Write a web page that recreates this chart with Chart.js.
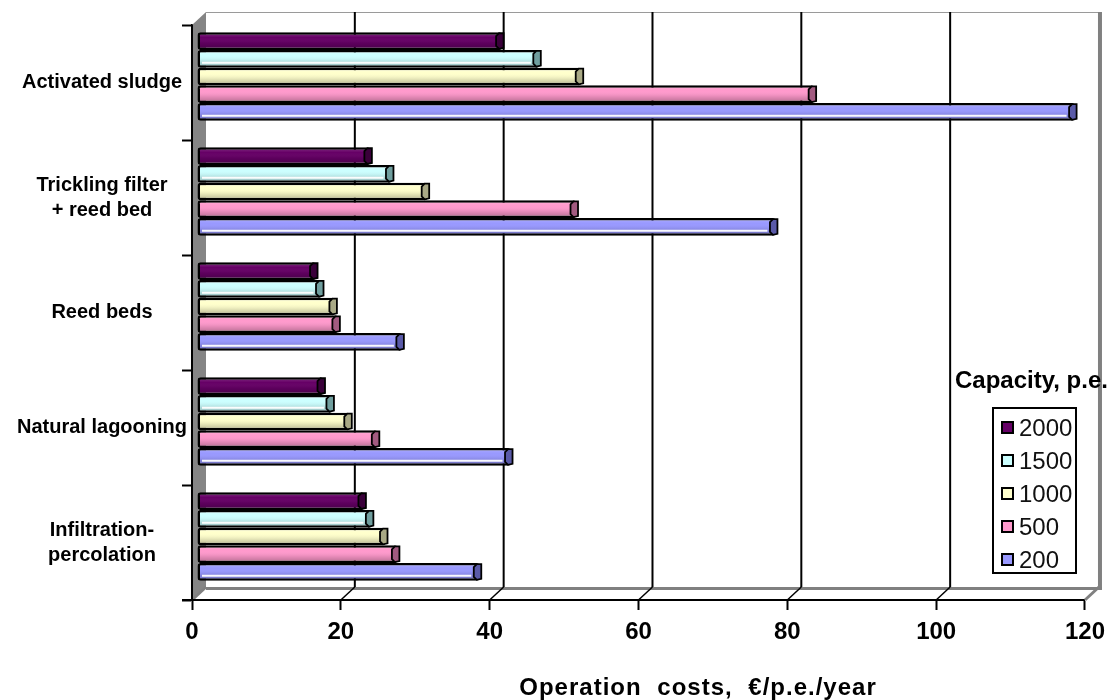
<!DOCTYPE html>
<html>
<head>
<meta charset="utf-8">
<script src="https://cdn.jsdelivr.net/npm/chart.js@4/dist/chart.umd.min.js"></script>
<style>
  html, body { margin: 0; padding: 0; background: #fff; }
  #wrap { width: 1113px; height: 700px; position: relative; }
</style>
</head>
<body>
<div id="wrap"><canvas id="costChart"></canvas></div>
<script>
// Treatment processes (top to bottom)
const categories = [
  'Activated sludge',
  ['Trickling filter', '+ reed bed'],
  'Reed beds',
  'Natural lagooning',
  ['Infiltration-', 'percolation']
];

// Plant capacity classes, p.e.
const capacities = ['2000', '1500', '1000', '500', '200'];

// Operation costs, €/p.e./year, one value per process
const cost2000 = [41, 23.3, 16, 17, 22.5];
const cost1500 = [46, 26.2, 16.8, 18.2, 23.5];
const cost1000 = [51.7, 31, 18.6, 20.6, 25.4];
const cost500  = [83, 51, 19, 24.3, 27];
const cost200  = [118, 77.8, 27.6, 42.2, 38];

// Value axis ticks
const xTicks = [0, 20, 40, 60, 80, 100, 120];

const xTitle = 'Operation costs, €/p.e./year';
const legendTitle = 'Capacity, p.e.';

// Styling
const FONT = '"Liberation Sans", Arial, sans-serif';
const fillColors = ['#660066', '#ccffff', '#ffffcc', '#ff99cc', '#9999ff'];
const capColors  = ['#3a003a', '#6f9e9e', '#a9a985', '#a25a80', '#5a5aa8'];
const glossLine  = [false, true, false, false, true];

const seriesValues = [cost2000, cost1500, cost1000, cost500, cost200];

// Pseudo-3D frame: back wall offset and bar depth offset
const WALL = { dx: 14, dy: -13 };
const BAR  = { dx: 5, dy: -6 };

const depthFrame = {
  id: 'depthFrame',
  beforeDatasetsDraw(chart) {
    const { ctx, chartArea: a, scales: { x } } = chart;
    ctx.save();
    const bl = a.left + WALL.dx, bt = a.top + WALL.dy, bb = a.bottom + WALL.dy;
    const br = x.getPixelForValue(xTicks[xTicks.length - 1]) + WALL.dx;

    // left side wall
    ctx.fillStyle = '#858585';
    ctx.beginPath();
    ctx.moveTo(a.left, a.top);
    ctx.lineTo(bl, bt);
    ctx.lineTo(bl, bb);
    ctx.lineTo(a.left, a.bottom);
    ctx.closePath();
    ctx.fill();

    // back wall top and right edges
    ctx.strokeStyle = '#9a9a9a';
    ctx.lineWidth = 1;
    ctx.beginPath(); ctx.moveTo(bl, bt + 0.5); ctx.lineTo(br, bt + 0.5); ctx.stroke();
    ctx.strokeStyle = '#808080';
    ctx.lineWidth = 4;
    ctx.beginPath(); ctx.moveTo(br + 1, bt); ctx.lineTo(br + 1, bb + 2); ctx.stroke();

    // floor back edge
    ctx.lineWidth = 3;
    ctx.beginPath(); ctx.moveTo(bl, bb + 1.5); ctx.lineTo(br + 3, bb + 1.5); ctx.stroke();

    // back wall gridlines and floor diagonals
    xTicks.forEach((v, i) => {
      const px = x.getPixelForValue(v);
      const edge = i === 0 || i === xTicks.length - 1;
      if (!edge) {
        ctx.strokeStyle = '#000';
        ctx.lineWidth = 2;
        ctx.beginPath(); ctx.moveTo(px + WALL.dx, bt); ctx.lineTo(px + WALL.dx, bb); ctx.stroke();
      }
      ctx.strokeStyle = edge ? '#808080' : '#000';
      ctx.lineWidth = edge ? 3 : 1.5;
      ctx.beginPath(); ctx.moveTo(px, a.bottom); ctx.lineTo(px + WALL.dx, bb); ctx.stroke();
    });

    // front edge of side wall
    ctx.strokeStyle = '#000';
    ctx.lineWidth = 2;
    ctx.beginPath(); ctx.moveTo(a.left, a.top); ctx.lineTo(a.left, a.bottom); ctx.stroke();
    ctx.beginPath(); ctx.moveTo(a.left - 10, a.bottom); ctx.lineTo(a.left + 4, a.bottom); ctx.stroke();
    ctx.restore();

    // bars sit partway into the depth
    ctx.save();
    ctx.translate(BAR.dx, BAR.dy);
  },
  afterDatasetsDraw(chart) {
    const ctx = chart.ctx;
    chart.data.datasets.forEach((ds, di) => {
      const meta = chart.getDatasetMeta(di);
      meta.data.forEach(el => {
        const { x, y, base, height } = el.getProps(['x', 'y', 'base', 'height'], true);
        const top = y - height / 2, bot = y + height / 2;
        const l = Math.min(x, base) + 2.5, r = Math.max(x, base) - 2.5;
        // cylinder shading
        const g = ctx.createLinearGradient(0, top, 0, bot);
        g.addColorStop(0, 'rgba(255,255,255,0.2)');
        g.addColorStop(0.3, 'rgba(255,255,255,0.0)');
        g.addColorStop(0.6, 'rgba(0,0,0,0.08)');
        g.addColorStop(1, 'rgba(0,0,0,0.3)');
        ctx.fillStyle = g;
        ctx.fillRect(l, top + 2.5, r - l, height - 5);
        if (glossLine[di]) {
          ctx.strokeStyle = 'rgba(255,255,255,0.95)';
          ctx.lineWidth = 2;
          const gy = top + height * 0.72;
          ctx.beginPath(); ctx.moveTo(l + 2, gy); ctx.lineTo(r - 6, gy); ctx.stroke();
        }
        // end face of the cylinder
        const rx = Math.max(x, base);
        ctx.fillStyle = capColors[di];
        ctx.strokeStyle = '#000';
        ctx.lineWidth = 1.8;
        ctx.beginPath();
        ctx.moveTo(rx - 6, top + 4);
        ctx.lineTo(rx - 3, top + 1);
        ctx.lineTo(rx + 1.5, top + 1);
        ctx.lineTo(rx + 1.5, bot - 2);
        ctx.lineTo(rx - 3, bot - 1);
        ctx.lineTo(rx - 6, bot - 4);
        ctx.closePath();
        ctx.fill();
        ctx.stroke();
      });
    });
    ctx.restore();
  }
};

const capacityLegend = {
  id: 'capacityLegend',
  afterDraw(chart) {
    const ctx = chart.ctx;
    ctx.save();
    ctx.fillStyle = '#000';
    ctx.textBaseline = 'middle';
    ctx.textAlign = 'left';
    ctx.font = 'bold 24px ' + FONT;
    ctx.fillText(legendTitle, 955, 381);

    ctx.fillStyle = '#fff';
    ctx.fillRect(993, 408, 83, 165);
    ctx.strokeStyle = '#000';
    ctx.lineWidth = 2;
    ctx.strokeRect(993, 408, 83, 165);

    ctx.font = '24px ' + FONT;
    capacities.forEach((c, i) => {
      const cy = 428 + i * 33;
      ctx.fillStyle = fillColors[i];
      ctx.fillRect(1002, cy - 6, 11, 11);
      ctx.strokeStyle = '#000';
      ctx.lineWidth = 2;
      ctx.strokeRect(1002, cy - 6, 11, 11);
      ctx.fillStyle = '#111';
      ctx.fillText(c, 1019, cy + 1);
    });

    // value axis caption
    ctx.font = 'bold 24px ' + FONT;
    ctx.fillStyle = '#000';
    ctx.textAlign = 'center';
    if ('letterSpacing' in ctx) ctx.letterSpacing = '1px';
    if ('wordSpacing' in ctx) ctx.wordSpacing = '8px';
    ctx.fillText(xTitle, 698, 688);
    ctx.restore();
  }
};

new Chart(document.getElementById('costChart'), {
  type: 'bar',
  data: {
    labels: categories,
    datasets: capacities.map((c, i) => ({
      label: c,
      data: seriesValues[i],
      backgroundColor: fillColors[i]
    }))
  },
  options: {
    indexAxis: 'y',
    responsive: true,
    maintainAspectRatio: false,
    animation: false,
    layout: { padding: { top: 25, right: 26, left: 0, bottom: 0 } },
    plugins: { legend: { display: false }, tooltip: { enabled: false } },
    datasets: {
      bar: {
        categoryPercentage: 0.77,
        barPercentage: 1,
        borderWidth: 2.5,
        borderColor: '#000',
        borderSkipped: false,
        borderRadius: 3,
        clip: false
      }
    },
    scales: {
      x: {
        min: 0,
        max: 120,
        afterBuildTicks(s) { s.ticks = xTicks.map(v => ({ value: v })); },
        ticks: {
          color: '#000',
          maxRotation: 0,
          padding: 8,
          font: { family: FONT, size: 24, weight: 'bold' }
        },
        grid: { drawOnChartArea: false, drawTicks: true, tickLength: 10, tickColor: '#000', tickWidth: 2 },
        border: { display: true, color: '#000', width: 2 },
        afterFit(s) { s.height = 100; }
      },
      y: {
        ticks: {
          color: '#000',
          crossAlign: 'center',
          padding: -5,
          font: { family: FONT, size: 20, weight: 'bold', lineHeight: 1.25 }
        },
        grid: { drawOnChartArea: false, offset: true, tickLength: 10, tickColor: '#000', tickWidth: 2 },
        border: { display: true, color: '#000', width: 2 },
        afterFit(s) { s.width = 192; }
      }
    }
  },
  plugins: [depthFrame, capacityLegend]
});
</script>
</body>
</html>
